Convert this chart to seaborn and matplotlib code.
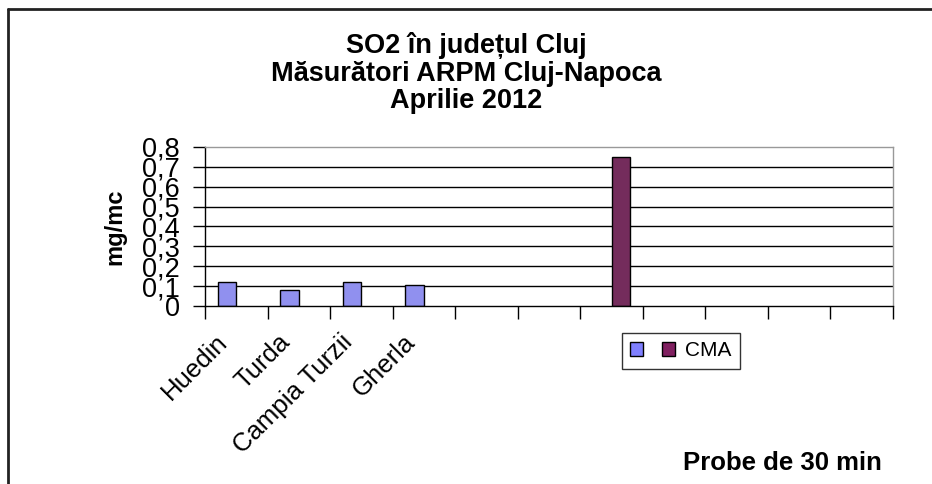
import numpy as np
import pandas as pd
import matplotlib
matplotlib.use("Agg")
import matplotlib.pyplot as plt
import matplotlib.transforms as mtransforms
from matplotlib.patches import Patch
from matplotlib.lines import Line2D
import seaborn as sns

# date
statii = ["Huedin", "Turda", "Campia Turzii", "Gherla", "", "", "", "", "", "", ""]
so2 = [0.12, 0.08, 0.12, 0.105, np.nan, np.nan, np.nan, np.nan, np.nan, np.nan, np.nan]
cma = [np.nan, np.nan, np.nan, np.nan, np.nan, np.nan, 0.75, np.nan, np.nan, np.nan, np.nan]
serii = ["SO2", "CMA"]
culori = {"SO2": "#8080FF", "CMA": "#802060"}
yticks = [0, 0.1, 0.2, 0.3, 0.4, 0.5, 0.6, 0.7, 0.8]

n = len(statii)
df = pd.DataFrame({
    "poz": list(range(n)) * 2,
    "val": so2 + cma,
    "serie": ["SO2"] * n + ["CMA"] * n,
})

sns.set_style("white")
plt.rcParams["font.family"] = ["Liberation Sans", "DejaVu Sans"]
plt.rcParams["text.color"] = "black"
plt.rcParams["axes.labelcolor"] = "black"
plt.rcParams["xtick.color"] = "black"
plt.rcParams["ytick.color"] = "black"

fig = plt.figure(figsize=(9.32, 4.84), dpi=100)
ax = fig.add_axes([205 / 932, 1 - 306 / 484, 688 / 932, 159 / 484])

sns.barplot(data=df, x="poz", y="val", hue="serie", hue_order=serii,
            palette=culori, width=0.6, gap=0, edgecolor="black", linewidth=1,
            legend=False, ax=ax)

ax.set_xlim(-0.5, n - 0.5)
ax.set_ylim(0, 0.8)

# grila
for v in yticks[1:-1]:
    ax.axhline(v, color="black", lw=1, zorder=0)

ax.set_yticks(yticks)
ax.set_yticklabels([("%g" % v).replace(".", ",") for v in yticks], fontsize=19.5)
ax.tick_params(axis="y", direction="out", length=9, width=1, pad=9, left=True)

ax.set_xticks(range(n))
ax.set_xticklabels(statii, rotation=45, ha="right", va="top",
                   rotation_mode="anchor", fontsize=18.5)
ax.tick_params(axis="x", which="major", length=0, pad=17)
dx = mtransforms.ScaledTranslation(-21 / 100, 0, fig.dpi_scale_trans)
for lbl in ax.get_xticklabels():
    lbl.set_transform(lbl.get_transform() + dx)
ax.set_xticks(np.arange(-0.5, n, 1), minor=True)
ax.tick_params(axis="x", which="minor", direction="out", length=9, width=1, bottom=True)

for s in ["left", "bottom"]:
    ax.spines[s].set_color("black")
    ax.spines[s].set_linewidth(1)
for s in ["top", "right"]:
    ax.spines[s].set_color("#999999")
    ax.spines[s].set_linewidth(1)

ax.set_xlabel("")
ax.set_ylabel("mg/mc", fontsize=17, fontweight="bold")
ax.yaxis.set_label_coords(-0.115, 0.5)

# titlu pe trei randuri
fig.text(0.5, 1 - 53 / 484, "SO2 în județul Cluj", ha="center", va="baseline",
         fontsize=19.5, fontweight="bold")
fig.text(0.5, 1 - 81 / 484, "Măsurători ARPM Cluj-Napoca", ha="center", va="baseline",
         fontsize=19.5, fontweight="bold")
fig.text(0.5, 1 - 108 / 484, "Aprilie 2012", ha="center", va="baseline",
         fontsize=19.5, fontweight="bold")

fig.text(782 / 932, 1 - 470 / 484, "Probe de 30 min", ha="center", va="baseline",
         fontsize=18.5, fontweight="bold")

# legenda
handles = [Patch(facecolor=culori[s], edgecolor="black", lw=1) for s in serii]
leg = fig.legend(handles, ["", "CMA"], ncol=2, loc="upper left",
                 bbox_to_anchor=(622 / 932, 1 - 333 / 484), borderaxespad=0,
                 fontsize=15, frameon=True, fancybox=False,
                 handlelength=0.62, handleheight=0.62,
                 handletextpad=0.5, columnspacing=0.4, borderpad=0.4)
leg.get_frame().set_edgecolor("black")
leg.get_frame().set_linewidth(1)

# chenarul graficului
fig.add_artist(Line2D([8 / 932, 8 / 932], [0, 1 - 9 / 484], color="#222222", lw=2))
fig.add_artist(Line2D([8 / 932, 1], [1 - 9 / 484, 1 - 9 / 484], color="#222222", lw=2))

fig.savefig("out.png", dpi=100)
